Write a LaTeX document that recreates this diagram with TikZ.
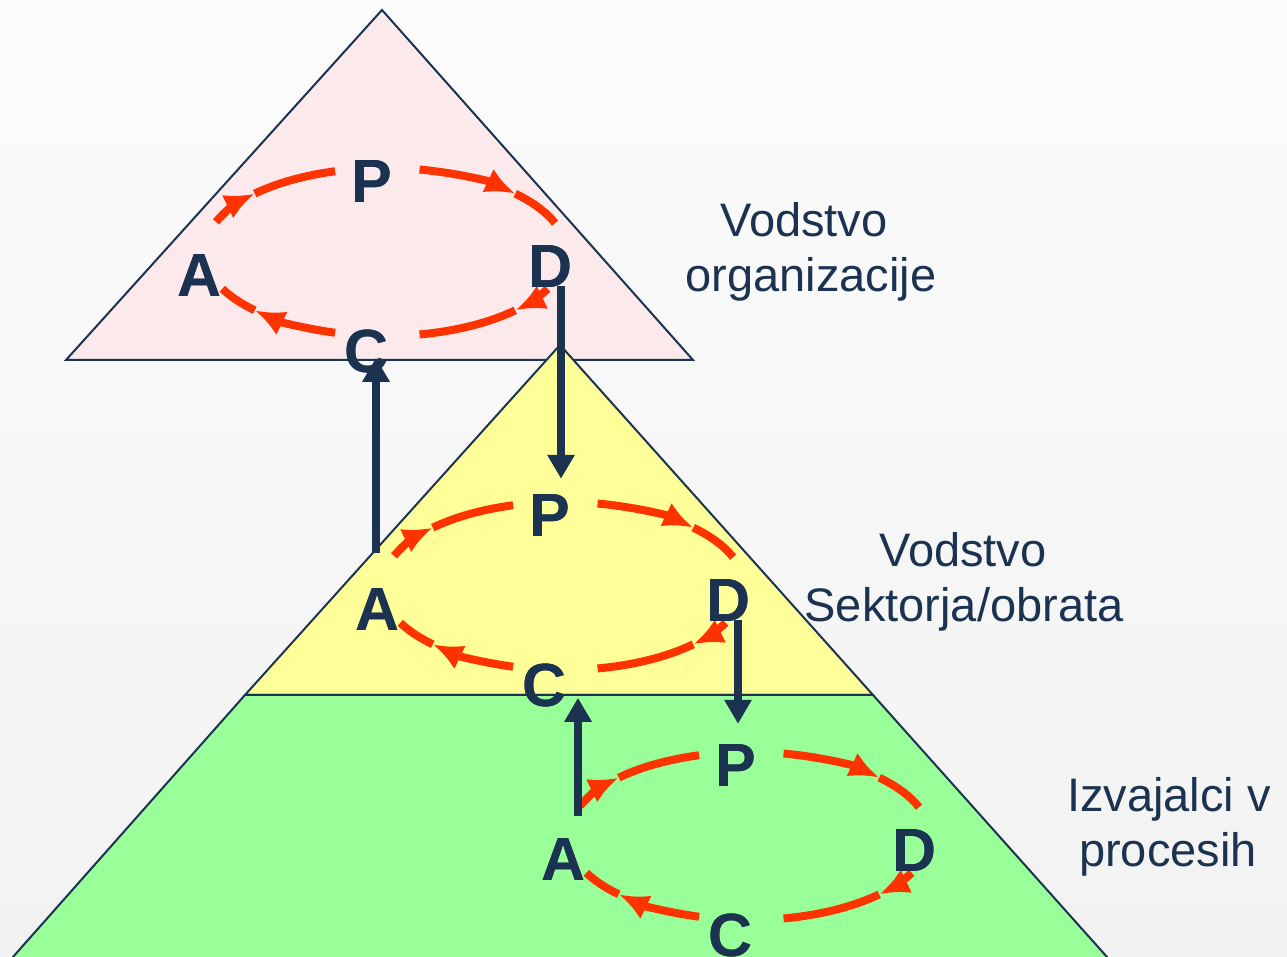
\documentclass[tikz,border=0pt]{standalone}
\usepackage{fontspec}
\setmainfont{Liberation Sans}
\usetikzlibrary{arrows.meta,calc}
\definecolor{navy}{HTML}{1B3350}
\definecolor{pdred}{HTML}{FF3300}
\definecolor{pinkfill}{HTML}{FCE9EB}
\definecolor{yellowfill}{HTML}{FFFF99}
\definecolor{greenfill}{HTML}{99FF99}
\definecolor{bgtop}{HTML}{FCFCFC}
\definecolor{bgbottom}{HTML}{F2F2F2}
\newcommand\cyclearc[4]{%
  \draw[cyc,-{Latex[length=30pt,width=26pt]}] ([shift={(#2:181pt and 84pt)}]#1) arc[start angle=#2,end angle=#3,x radius=181pt,y radius=84pt];
  \draw[cyc] ([shift={(#3:181pt and 84pt)}]#1) arc[start angle=#3,end angle=#4,x radius=181pt,y radius=84pt];
}
\newcommand\pdcacycle[1]{% #1 center
  \cyclearc{#1}{159}{136}{106}
  \cyclearc{#1}{79}{44}{20}
  \cyclearc{#1}{-26}{-44}{-79}
  \cyclearc{#1}{-106}{-136}{-154}
}
\begin{document}
\begin{tikzpicture}[x=1pt,y=1pt,
  cyc/.style={line width=8pt, draw=pdred},
  conn/.style={line width=7.5pt, draw=navy, -{Triangle[length=24pt,width=26pt]}},
  ltr/.style={inner sep=0pt, text=navy, font=\fontsize{61}{61}\selectfont\bfseries},
  lbl/.style={anchor=base, inner sep=0pt, text=navy, font=\fontsize{47}{55}\selectfont},
  tri/.style={draw=navy, line width=2pt, line join=miter}]
\useasboundingbox (0,0) rectangle (1287,957);
\clip (0,0) rectangle (1287,957);
\shade[top color=bgtop, bottom color=bgbottom] (0,0) rectangle (1287,957);
% pyramid levels
\filldraw[tri, fill=pinkfill] (382,947) -- (693,597) -- (66,597) -- cycle;
\filldraw[tri, fill=yellowfill] (560,612) -- (873,262) -- (245,262) -- cycle;
\filldraw[tri, fill=greenfill] (245,262) -- (873,262) -- (1109.7,-3) -- (10.3,-3) -- cycle;
% ellipse centres
\coordinate (tc) at (385,705);
\coordinate (mc) at (563,371);
\coordinate (bc) at (749,121);
% PDCA cycles
\pdcacycle{tc}
\pdcacycle{mc}
\pdcacycle{bc}
% letters
\foreach \c/\p in {tc/t, mc/m, bc/b}{
  \node[ltr] (\p P) at ($(\c)+(-13,70)$) {P};
  \node[ltr] (\p A) at ($(\c)+(-185,-24)$) {A};
  \node[ltr] (\p D) at ($(\c)+(166,-15)$) {D};
  \node[ltr] (\p C) at ($(\c)+(-18,-100)$) {C};
}
% connectors
\draw[conn] ($(tD.south)+(10,2)$) -- ($(mP.north -| tD.south)+(10,16)$);
\draw[conn] ($(mA.north)+(-2,36)$) -- ($(tC.south -| mA.north)+(-2,16)$);
\draw[conn] ($(mD.south)+(9,2)$) -- ($(bP.north -| mD.south)+(9,21)$);
\draw[conn] ($(bA.north)+(14,23)$) -- ($(mC.south -| bA.north)+(14,10)$);
% letters again, on top of the connectors
\foreach \c in {tc, mc, bc}{
  \node[ltr] at ($(\c)+(-13,70)$) {P};
  \node[ltr] at ($(\c)+(-185,-24)$) {A};
  \node[ltr] at ($(\c)+(166,-15)$) {D};
  \node[ltr] at ($(\c)+(-18,-100)$) {C};
}
% labels
\node[lbl] (l1a) at (804,720) {Vodstvo};
\node[lbl] (l1b) at (811,665) {organizacije};
\node[lbl] (l2a) at (963,390) {Vodstvo};
\node[lbl] (l2b) at (964,335) {Sektorja/obrata};
\node[lbl] (l3a) at (1169,145) {Izvajalci v};
\node[lbl] (l3b) at (1168,90) {procesih};
\end{tikzpicture}
\end{document}
